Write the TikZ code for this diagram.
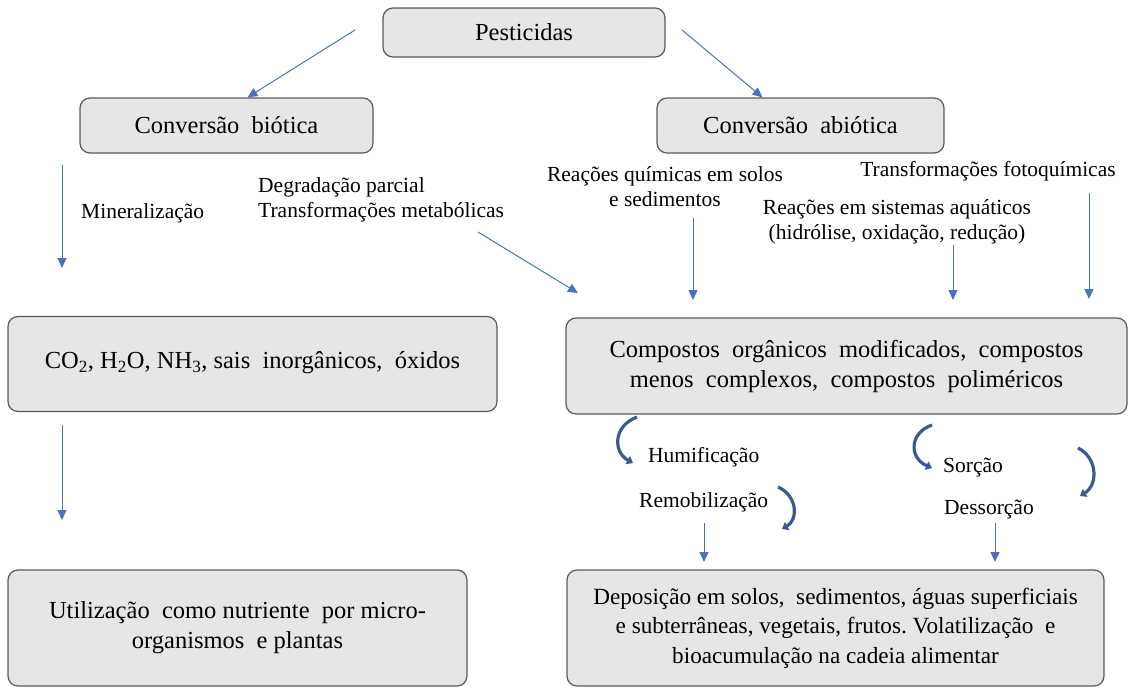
\documentclass[tikz,border=0pt]{standalone}
\usepackage{fontspec}
\setmainfont{Liberation Serif}
\usetikzlibrary{arrows.meta,calc}
\definecolor{boxfill}{HTML}{E6E6E6}
\definecolor{boxline}{HTML}{5A5A5A}
\definecolor{arrowblue}{HTML}{4A72C0}
\definecolor{curveblue}{HTML}{3A5A92}
\begin{document}
\begin{tikzpicture}[x=1pt,y=-1pt,
  box/.style={draw=boxline, fill=boxfill, rounded corners=10pt, line width=1.2pt, inner sep=0pt, align=center, font=\fontsize{24.5}{30}\selectfont},
  lbl/.style={inner sep=0pt, font=\fontsize{21.5}{25}\selectfont},
  arr/.style={draw=arrowblue, line width=1pt, -{Triangle[length=10pt,width=9pt]}},
  carr/.style={draw=curveblue, line width=3.2pt, -{Triangle[length=6pt,width=9pt]}}]
\useasboundingbox (0,0) rectangle (1135,688);
% boxes
\node[box, minimum width=282pt, minimum height=49pt] (pest) at (524,32.5) {Pesticidas};
\node[box, minimum width=293pt, minimum height=55pt] (bio) at (226.5,125.5) {Conversão\ \ biótica};
\node[box, minimum width=287pt, minimum height=55pt] (abio) at (800.5,125.5) {Conversão\ \ abiótica};
\node[box, minimum width=489pt, minimum height=95pt] (co2) at (252.5,364) {\raisebox{8pt}{CO\textsubscript{2}, H\textsubscript{2}O, NH\textsubscript{3}, sais\ \ inorgânicos,\ \ óxidos}};
\node[box, minimum width=561pt, minimum height=96pt] (comp) at (846.5,366) {Compostos\ \ orgânicos\ \ modificados,\ \ compostos\\menos\ \ complexos,\ \ compostos\ \ poliméricos};
\node[box, minimum width=459pt, minimum height=116pt] (util) at (237.5,628) {Utilização\ \ como nutriente\ \ por micro-\\organismos\ \ e plantas};
\node[box, minimum width=537pt, minimum height=116pt, font=\fontsize{23.2}{29.5}\selectfont] (dep) at (835.5,628) {Deposição em solos,\ \ sedimentos,\ águas superficiais\\e subterrâneas, vegetais,\ frutos.\ Volatilização\ \ e\\bioacumulação na cadeia alimentar};
% labels
\node[lbl, anchor=west] (mine) at (81,213) {Mineralização};
\node[lbl, anchor=west, align=left] (degr) at (258,200) {Degradação parcial\\Transformações metabólicas};
\node[lbl, align=center] (quim) at (665,187) {Reações químicas em\ solos\\e sedimentos};
\node[lbl] (foto) at (988,171) {Transformações fotoquímicas};
\node[lbl, align=center] (aqua) at (897,222) {Reações em sistemas aquáticos\\(hidrólise, oxidação, redução)};
\node[lbl, anchor=west] (humi) at (648,457) {Humificação};
\node[lbl, anchor=west] (remo) at (639,502) {Remobilização};
\node[lbl, anchor=west] (sorc) at (943,468) {Sorção};
\node[lbl, anchor=west] (desso) at (944,510) {Dessorção};
% free ends
\coordinate (a1) at (355,30);
\coordinate (a2) at (682,30);
\coordinate (m1) at (62,165);
\coordinate (m2) at (62,268);
\coordinate (c1) at (62,425);
\coordinate (c2) at (62,520);
\coordinate (d1) at (478,232);
\coordinate (d2) at (578,293);
\coordinate (q1) at (693,218);
\coordinate (q2) at (693,300);
\coordinate (w1) at (953,245);
\coordinate (w2) at (953,300);
\coordinate (f1) at (1089,193);
\coordinate (f2) at (1089,299);
\coordinate (r1) at (704,523);
\coordinate (r2) at (704,562);
\coordinate (s1) at (995,523);
\coordinate (s2) at (995,562);
% connectors
\draw[arr] (a1) -- ($(bio.north)+(21,0)$);
\draw[arr] (a2) -- ($(abio.north)+(-38,0)$);
\draw[arr] (m1) -- (m2);
\draw[arr] (c1) -- (c2);
\draw[arr] (d1) -- (d2);
\draw[arr] (q1) -- (q2);
\draw[arr] (w1) -- (w2);
\draw[arr] (f1) -- (f2);
\draw[arr] (r1) -- (r2);
\draw[arr] (s1) -- (s2);
% curved arrows
\draw[carr] (637,417) .. controls (613,426) and (613,452) .. (633,463);
\draw[carr] (778,487) .. controls (798,496) and (798,520) .. (782,529);
\draw[carr] (932,425) .. controls (909,433) and (909,458) .. (932,468);
\draw[carr] (1078,448) .. controls (1098,458) and (1098,485) .. (1080,496);
\end{tikzpicture}
\end{document}
